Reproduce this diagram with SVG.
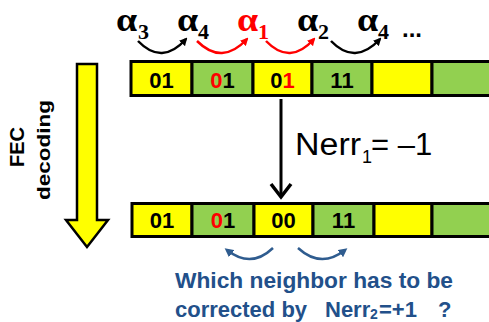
<svg xmlns="http://www.w3.org/2000/svg" width="489" height="322" viewBox="0 0 489 322">
<style>
.y{fill:#FFFF00;stroke:#000;stroke-width:3}
.g{fill:#92D050;stroke:#000;stroke-width:3}
.cell{font-family:"Liberation Sans",Arial,sans-serif;font-weight:bold;font-size:22px;text-anchor:middle;fill:#000}
.al{font-family:"Liberation Serif","Times New Roman",serif;font-weight:bold;font-size:33px}
.sub{font-family:"Liberation Serif","Times New Roman",serif;font-weight:bold;font-size:22px}
.blue{font-family:"Liberation Sans",Arial,sans-serif;font-weight:bold;font-size:22px;fill:#22508A}
.bsub{font-size:14px}
.red{fill:#FF0000}
</style>
<defs>
<marker id="ab" markerWidth="8" markerHeight="8" refX="6" refY="4" orient="auto" markerUnits="userSpaceOnUse"><path d="M0,0 L8,4 L0,8 Z" fill="#000"/></marker>
<marker id="ar" markerWidth="8" markerHeight="8" refX="6" refY="4" orient="auto" markerUnits="userSpaceOnUse"><path d="M0,0 L8,4 L0,8 Z" fill="#FF0000"/></marker>
<marker id="abl" markerWidth="9" markerHeight="9" refX="6" refY="4.5" orient="auto" markerUnits="userSpaceOnUse"><path d="M0,0 L9,4.5 L0,9 Z" fill="#2F5C8F"/></marker>
</defs>

<g id="fec-arrow">
<polygon points="77,64 97,64 97,220 108,220 87,247 66,220 77,220" fill="#FFFF00" stroke="#000" stroke-width="2.5" stroke-linejoin="miter"/>
</g>
<g id="fec-label" font-family="'Liberation Sans',Arial,sans-serif" font-weight="bold" fill="#000">
<text transform="translate(24,147) rotate(-90)" font-size="20" text-anchor="middle">FEC</text>
<text transform="translate(50,150) rotate(-90)" font-size="19" text-anchor="middle" textLength="100" lengthAdjust="spacingAndGlyphs">decoding</text>
</g>

<g id="alphas">
<text class="al" transform="translate(116,31) scale(1.15,1)">α</text><text class="sub" x="138" y="39">3</text>
<text class="al" transform="translate(177,31) scale(1.15,1)">α</text><text class="sub" x="198" y="39">4</text>
<text class="al red" transform="translate(237,31) scale(1.15,1)">α</text><text class="sub red" x="258" y="39">1</text>
<text class="al" transform="translate(297,31) scale(1.15,1)">α</text><text class="sub" x="318" y="39">2</text>
<text class="al" transform="translate(357,31) scale(1.15,1)">α</text><text class="sub" x="378" y="39">4</text>
<text x="402" y="37" font-family="'Liberation Sans',Arial,sans-serif" font-weight="bold" font-size="24">...</text>
</g>

<g id="top-bar">
<rect class="y" x="131" y="61.5" width="61" height="34"/>
<rect class="g" x="192" y="61.5" width="61" height="34"/>
<rect class="y" x="253" y="61.5" width="59" height="34"/>
<rect class="g" x="312" y="61.5" width="60" height="34"/>
<rect class="y" x="372" y="61.5" width="60" height="34"/>
<rect class="g" x="432" y="61.5" width="70" height="34"/>
<text class="cell" x="161.5" y="88">01</text>
<text class="cell" x="222.5" y="88"><tspan class="red">0</tspan>1</text>
<text class="cell" x="282.5" y="88">0<tspan class="red">1</tspan></text>
<text class="cell" x="342" y="88">11</text>
</g>

<g id="bottom-bar">
<rect class="y" x="132" y="203.5" width="60" height="33"/>
<rect class="g" x="192" y="203.5" width="62" height="33"/>
<rect class="y" x="254" y="203.5" width="59" height="33"/>
<rect class="g" x="313" y="203.5" width="61" height="33"/>
<rect class="y" x="374" y="203.5" width="58" height="33"/>
<rect class="g" x="432" y="203.5" width="70" height="33"/>
<text class="cell" x="162" y="228">01</text>
<text class="cell" x="223" y="228"><tspan class="red">0</tspan>1</text>
<text class="cell" x="283.5" y="228">00</text>
<text class="cell" x="343.5" y="228">11</text>
</g>

<g id="nerr1" font-family="'Liberation Sans',Arial,sans-serif" fill="#000">
<text x="295" y="155" font-size="31" textLength="66" lengthAdjust="spacingAndGlyphs">Nerr</text>
<text x="362" y="163" font-size="18">1</text>
<text x="371" y="155" font-size="31">= –1</text>
</g>

<g id="question">
<text class="blue" x="175" y="288" textLength="278" lengthAdjust="spacingAndGlyphs">Which neighbor has to be</text>
<text class="blue" x="175" y="317">corrected by</text>
<text class="blue" x="325" y="317">Nerr</text>
<text class="blue bsub" x="370" y="318.5">2</text>
<text class="blue" x="379" y="317">=+1</text>
<text class="blue" x="438" y="317">?</text>
</g>

<g id="connectors" fill="none" stroke-width="2.5">
<path d="M138,41 Q162,66 186,39" stroke="#000" marker-end="url(#ab)"/>
<path d="M197,41 Q222,66 247,39" stroke="#FF0000" marker-end="url(#ar)"/>
<path d="M266,41 Q290,66 314,39" stroke="#FF0000" marker-end="url(#ar)"/>
<path d="M331,41 Q355,66 380,39" stroke="#000" marker-end="url(#ab)"/>
<line x1="281" y1="99" x2="281" y2="196" stroke="#000" stroke-width="3"/>
<polyline points="271,184 281,197 291,184" stroke="#000" stroke-width="3.5"/>
<path d="M273,248 Q251,269 227,250" stroke="#2F5C8F" marker-end="url(#abl)"/>
<path d="M298,248 Q321,269 345,250" stroke="#2F5C8F" marker-end="url(#abl)"/>
</g>
</svg>
